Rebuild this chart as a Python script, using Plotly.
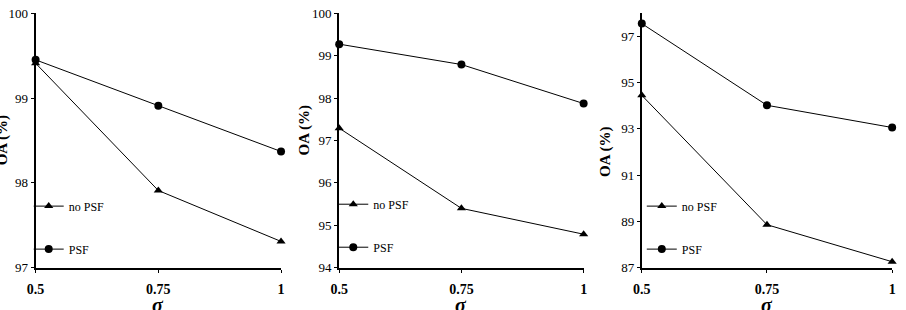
import plotly.graph_objects as go

sigma = [0.5, 0.75, 1]
x_tick_labels = ["0.5", "0.75", "1"]

p1_no_psf = [99.41, 97.91, 97.31]
p1_psf = [99.45, 98.91, 98.37]
p2_no_psf = [97.29, 95.40, 94.79]
p2_psf = [99.27, 98.79, 97.87]
p3_no_psf = [94.45, 88.86, 87.26]
p3_psf = [97.55, 94.02, 93.06]

series_names = ["no PSF", "PSF"]

W, H = 906, 310
FONT = "Liberation Serif"

fig = go.Figure()

panels = [
    dict(no=p1_no_psf, psf=p1_psf, yr=[97, 100], yt=[97, 98, 99, 100], xd=[27, 276],
         leg=(20, 194), title=(-7, 140)),
    dict(no=p2_no_psf, psf=p2_psf, yr=[94, 100], yt=[94, 95, 96, 97, 98, 99, 100], xd=[335, 583],
         leg=(329, 192), title=(300, 130)),
    dict(no=p3_no_psf, psf=p3_psf, yr=[87, 98], yt=[87, 89, 91, 93, 95, 97], xd=[642, 896],
         leg=(642, 194), title=(605, 152)),
]

y_top, y_bot = 6.5, 274

for i, p in enumerate(panels):
    n = i + 1
    xa = "x" if n == 1 else f"x{n}"
    ya = "y" if n == 1 else f"y{n}"
    lg = "legend" if n == 1 else f"legend{n}"
    fig.add_trace(go.Scatter(
        x=sigma, y=p["no"], name=series_names[0], mode="lines+markers",
        line=dict(color="black", width=1),
        marker=dict(symbol="triangle-up", size=8, color="black"),
        xaxis=xa, yaxis=ya, legend=lg, legendgroup=f"a{n}", cliponaxis=False))
    fig.add_trace(go.Scatter(
        x=sigma, y=p["psf"], name=series_names[1], mode="lines+markers",
        line=dict(color="black", width=1),
        marker=dict(symbol="circle", size=8, color="black"),
        xaxis=xa, yaxis=ya, legend=lg, legendgroup=f"b{n}", cliponaxis=False))

    axkey = "xaxis" if n == 1 else f"xaxis{n}"
    aykey = "yaxis" if n == 1 else f"yaxis{n}"
    fig.layout[axkey] = dict(
        domain=[p["xd"][0] / W, p["xd"][1] / W], range=[0.5, 1],
        tickvals=sigma, ticktext=x_tick_labels, ticks="outside", ticklen=3,
        tickcolor="black", showline=True, linecolor="black", linewidth=2,
        showgrid=False, zeroline=False, anchor=ya, ticklabelstandoff=4,
        ticklabeloverflow="allow",
        tickfont=dict(family=FONT, size=14, color="black", weight="bold"))
    fig.layout[aykey] = dict(
        domain=[(H - y_bot) / H, (H - y_top) / H], range=p["yr"],
        tickvals=p["yt"], ticks="outside", ticklen=3, tickcolor="black",
        showline=True, linecolor="black", linewidth=2, showgrid=False,
        zeroline=False, anchor=xa, ticklabeloverflow="allow",
        tickfont=dict(family=FONT, size=13, color="black"))
    fig.layout[lg] = dict(
        x=p["leg"][0] / W, y=(H - p["leg"][1]) / H, xanchor="left", yanchor="top",
        bgcolor="rgba(0,0,0,0)", font=dict(family=FONT, size=12, color="black"),
        traceorder="grouped", tracegroupgap=24, itemwidth=30)

    fig.add_annotation(text="OA (%)", textangle=-90, xref="paper", yref="paper",
                       x=p["title"][0] / W, y=(H - p["title"][1]) / H,
                       xanchor="center", yanchor="middle", showarrow=False,
                       font=dict(family=FONT, size=15, color="black", weight="bold"))
    fig.add_annotation(text="<i>σ</i>", xref="paper", yref="paper",
                       x=(p["xd"][0] + p["xd"][1]) / 2 / W, y=(H - 300) / H,
                       xanchor="center", yanchor="top", showarrow=False,
                       font=dict(family=FONT, size=20, color="black", weight="bold"))

fig.update_layout(width=W, height=H, margin=dict(l=0, r=0, t=0, b=0),
                  paper_bgcolor="white", plot_bgcolor="white", showlegend=True)

fig.write_html("out.html")
